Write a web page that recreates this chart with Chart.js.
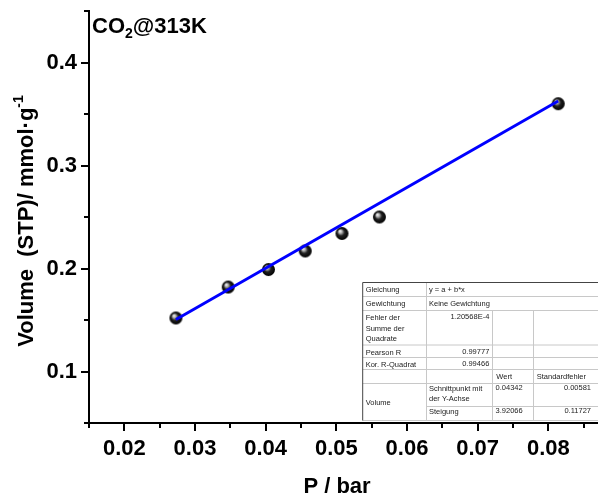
<!DOCTYPE html>
<html>
<head>
<meta charset="utf-8">
<script src="https://cdn.jsdelivr.net/npm/chart.js@4.4.0/dist/chart.umd.min.js"></script>
<style>
  html, body { margin: 0; padding: 0; background: #fff; }
  #chart { display: block; }
</style>
</head>
<body>
<canvas id="chart" width="598" height="500"></canvas>
<script>
// CO2 uptake at 313 K, low pressure region
const pressure = [0.0273, 0.0347, 0.0404, 0.0456, 0.0508, 0.0561, 0.0814];
const volume = [0.152, 0.182, 0.199, 0.217, 0.234, 0.250, 0.360];

// linear fit y = a + b*x
const intercept = 0.04342;
const slope = 3.92066;

const xMin = 0.015, xMax = 0.08703;
const yMin = 0.05, yMax = 0.45;
const xTicks = [0.02, 0.03, 0.04, 0.05, 0.06, 0.07, 0.08];
const yTicks = [0.1, 0.2, 0.3, 0.4];
const xMinor = [0.015, 0.025, 0.035, 0.045, 0.055, 0.065, 0.075, 0.085];
const yMinor = [0.05, 0.15, 0.25, 0.35, 0.45];

// fit statistics table rows
const fitRows = [
    ['Gleichung', 'y = a + b*x'],
    ['Gewichtung', 'Keine Gewichtung'],
    ['Fehler der\nSumme der\nQuadrate', '1.20568E-4'],
    ['Pearson R', '0.99777'],
    ['Kor. R-Quadrat', '0.99466']
];
const fitHeader = ['Wert', 'Standardfehler'];
const fitParams = [
    ['Schnittpunkt mit\nder Y-Achse', '0.04342', '0.00581'],
    ['Steigung', '3.92066', '0.11727']
];

const FONT = '"Liberation Sans", Arial, sans-serif';

// shaded black ball used as marker
function makeBall(r) {
    const c = document.createElement('canvas');
    const s = r * 2 + 2;
    c.width = s; c.height = s;
    const g = c.getContext('2d');
    const cx = s / 2, cy = s / 2;
    const grad = g.createRadialGradient(cx - r * 0.35, cy - r * 0.4, 0, cx, cy, r);
    grad.addColorStop(0, '#ffffff');
    grad.addColorStop(0.25, '#b8b8b8');
    grad.addColorStop(0.55, '#202020');
    grad.addColorStop(1, '#000000');
    g.fillStyle = grad;
    g.beginPath();
    g.arc(cx, cy, r, 0, Math.PI * 2);
    g.fill();
    return c;
}
const ball = makeBall(6.5);

const points = pressure.map((p, i) => ({ x: p, y: volume[i] }));
const fitX = [pressure[0], pressure[pressure.length - 1]];
const fitLine = fitX.map(x => ({ x: x, y: intercept + slope * x }));

const decorations = {
    id: 'decorations',
    afterDraw(chart) {
        const ctx = chart.ctx;
        const xs = chart.scales.x, ys = chart.scales.y;
        const area = chart.chartArea;
        ctx.save();
        ctx.strokeStyle = '#000';
        ctx.lineWidth = 2;
        // major and minor tick marks, outward
        ctx.beginPath();
        xTicks.forEach(v => { const p = Math.round(xs.getPixelForValue(v)); ctx.moveTo(p, area.bottom); ctx.lineTo(p, area.bottom + 8); });
        xMinor.forEach(v => { const p = Math.round(xs.getPixelForValue(v)); if (p >= area.left && p <= area.right) { ctx.moveTo(p, area.bottom); ctx.lineTo(p, area.bottom + 5); } });
        yTicks.forEach(v => { const p = Math.round(ys.getPixelForValue(v)); ctx.moveTo(area.left, p); ctx.lineTo(area.left - 8, p); });
        yMinor.forEach(v => { const p = Math.round(ys.getPixelForValue(v)); ctx.moveTo(area.left, p); ctx.lineTo(area.left - 5, p); });
        ctx.stroke();

        // chart title with subscript
        ctx.fillStyle = '#000';
        ctx.textBaseline = 'alphabetic';
        ctx.textAlign = 'left';
        let tx = 92, ty = 33;
        ctx.font = 'bold 22px ' + FONT;
        ctx.fillText('CO', tx, ty); tx += ctx.measureText('CO').width;
        ctx.font = 'bold 14px ' + FONT;
        ctx.fillText('2', tx, ty + 5); tx += ctx.measureText('2').width;
        ctx.font = 'bold 22px ' + FONT;
        ctx.fillText('@313K', tx, ty);

        // x axis title
        ctx.font = 'bold 22px ' + FONT;
        ctx.textAlign = 'center';
        ctx.textBaseline = 'middle';
        ctx.fillText('P / bar', 337, 487);

        // y axis title with superscript
        ctx.save();
        ctx.translate(33, 221);
        ctx.rotate(-Math.PI / 2);
        ctx.textAlign = 'left';
        ctx.textBaseline = 'alphabetic';
        const main = 'Volume  (STP)/ mmol\u00B7g';
        ctx.font = 'bold 22px ' + FONT;
        const wMain = ctx.measureText(main).width;
        ctx.font = 'bold 14px ' + FONT;
        const wSup = ctx.measureText('-1').width;
        let sx = -(wMain + wSup) / 2;
        ctx.font = 'bold 22px ' + FONT;
        ctx.fillText(main, sx, 0);
        ctx.font = 'bold 14px ' + FONT;
        ctx.fillText('-1', sx + wMain, -10);
        ctx.restore();

        drawTable(ctx);
        ctx.restore();
    }
};

function drawTable(ctx) {
    const cols = [362.7, 426, 492.3, 532.7, 598];
    const rows = [282.5, 296.5, 310.5, 345, 357.5, 369.5, 383.5, 406.5, 420.5];
    ctx.fillStyle = '#fff';
    ctx.fillRect(cols[0], rows[0], cols[4] - cols[0], rows[8] - rows[0]);

    // inner grid
    ctx.strokeStyle = '#c8c8c8';
    ctx.lineWidth = 1;
    ctx.beginPath();
    for (let i = 1; i < 9; i++) {
        if (i === 7) { ctx.moveTo(cols[1], rows[i]); ctx.lineTo(cols[4], rows[i]); }
        else { ctx.moveTo(cols[0], rows[i]); ctx.lineTo(cols[4], rows[i]); }
    }
    ctx.moveTo(Math.round(cols[1]) + 0.5, rows[0]); ctx.lineTo(Math.round(cols[1]) + 0.5, rows[8]);
    [cols[2], cols[3]].forEach(c => { ctx.moveTo(Math.round(c) + 0.5, rows[2]); ctx.lineTo(Math.round(c) + 0.5, rows[8]); });
    ctx.stroke();

    // outer left and top edges
    ctx.strokeStyle = '#444';
    ctx.beginPath();
    ctx.moveTo(cols[0], rows[0]); ctx.lineTo(cols[4], rows[0]);
    ctx.moveTo(cols[0], rows[0]); ctx.lineTo(cols[0], rows[8]);
    ctx.stroke();

    ctx.fillStyle = '#222';
    ctx.font = '7.5px ' + FONT;
    ctx.textBaseline = 'middle';
    const lineH = 10.5;
    fitRows.forEach((r, i) => {
        const top = rows[i];
        const lines = r[0].split('\n');
        ctx.textAlign = 'left';
        lines.forEach((l, k) => ctx.fillText(l, cols[0] + 3, top + 7.5 + k * lineH));
        if (i < 2) {
            ctx.fillText(r[1], cols[1] + 3, top + 7);
        } else {
            ctx.textAlign = 'right';
            ctx.fillText(r[1], cols[2] - 3, top + 6.5);
        }
    });
    ctx.textAlign = 'left';
    ctx.fillText(fitHeader[0], cols[2] + 4, rows[5] + 7.5);
    ctx.fillText(fitHeader[1], cols[3] + 4, rows[5] + 7.5);
    ctx.fillText('Volume', cols[0] + 3, (rows[6] + rows[8]) / 2 + 0.5);
    fitParams.forEach((r, i) => {
        const top = rows[6 + i];
        ctx.textAlign = 'left';
        r[0].split('\n').forEach((l, k) => ctx.fillText(l, cols[1] + 3, top + 5 + k * lineH));
        ctx.textAlign = 'right';
        ctx.fillText(r[1], cols[3] - 10, top + 4.5);
        ctx.fillText(r[2], cols[4] - 7, top + 4.5);
    });
}

// ticks at the scale ends carry empty labels so no edge padding is reserved
const xLabel = v => xTicks.some(t => Math.abs(t - v) < 1e-9) ? v.toFixed(2) : '';
const yLabel = v => yTicks.some(t => Math.abs(t - v) < 1e-9) ? v.toFixed(1) : '';

new Chart(document.getElementById('chart'), {
    type: 'scatter',
    data: {
        datasets: [
            {
                type: 'line',
                label: 'fit',
                data: fitLine,
                borderColor: '#0000ff',
                borderWidth: 3,
                pointRadius: 0,
                fill: false,
                order: 0
            },
            {
                label: 'Volume',
                data: points,
                pointStyle: ball,
                pointRadius: 7,
                order: 1
            }
        ]
    },
    options: {
        responsive: false,
        animation: false,
        devicePixelRatio: 1,
        layout: { autoPadding: false, padding: { top: 11, right: 0, left: 0, bottom: 0 } },
        plugins: {
            legend: { display: false },
            tooltip: { enabled: false }
        },
        scales: {
            x: {
                type: 'linear',
                position: 'bottom',
                min: xMin,
                max: xMax,
                afterBuildTicks: s => { s.ticks = [xMin, ...xTicks, xMax].map(v => ({ value: v })); },
                afterFit: s => { s.height = 77; s.paddingLeft = 0; s.paddingRight = 0; },
                grid: { display: false, tickLength: 13 },
                border: { display: true, color: '#000', width: 2 },
                ticks: {
                    color: '#000',
                    font: { family: FONT, size: 22, weight: 'bold' },
                    padding: 0,
                    maxRotation: 0,
                    autoSkip: false,
                    callback: xLabel
                }
            },
            y: {
                type: 'linear',
                min: yMin,
                max: yMax,
                afterBuildTicks: s => { s.ticks = yTicks.map(v => ({ value: v })); },
                afterFit: s => { s.width = 89; s.paddingTop = 0; s.paddingBottom = 0; },
                grid: { display: false },
                border: { display: true, color: '#000', width: 2 },
                ticks: {
                    color: '#000',
                    font: { family: FONT, size: 22, weight: 'bold' },
                    padding: 4,
                    callback: yLabel
                }
            }
        }
    },
    plugins: [decorations]
});
</script>
</body>
</html>
